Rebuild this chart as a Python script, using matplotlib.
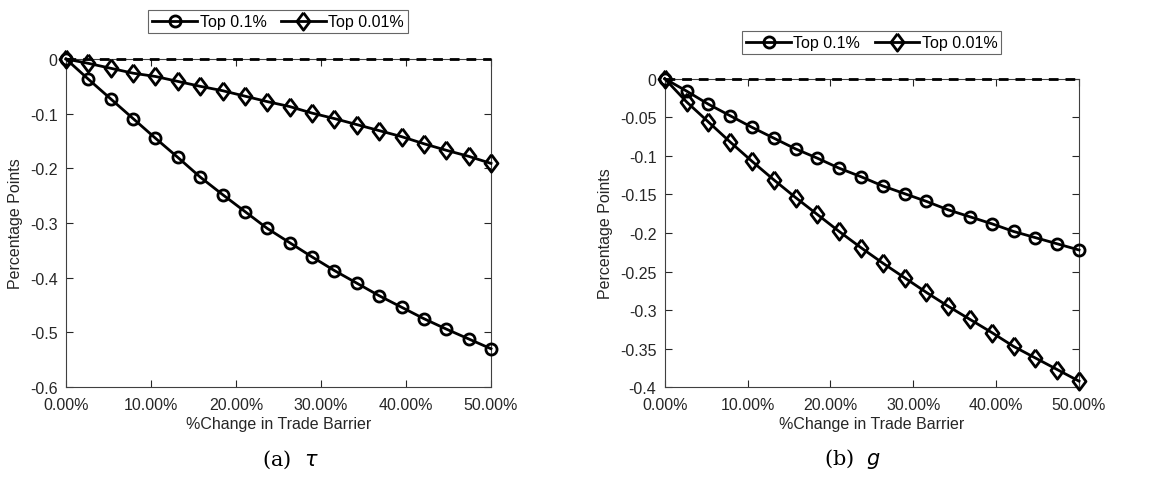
import matplotlib.pyplot as plt
import numpy as np

plt.rcParams['font.family'] = ['Liberation Sans', 'DejaVu Sans']

# trade barrier change, 20 steps from 0% to 50%
barrier = np.linspace(0.0, 0.5, 20)

# (a) response of tau, percentage points
tau_top01 = [0.000, -0.037, -0.073, -0.109, -0.145, -0.180, -0.216, -0.248,
             -0.279, -0.310, -0.336, -0.362, -0.387, -0.410, -0.433, -0.454,
             -0.475, -0.494, -0.512, -0.530]
tau_top001 = [0.000, -0.008, -0.017, -0.026, -0.032, -0.041, -0.050, -0.058,
              -0.068, -0.078, -0.087, -0.099, -0.109, -0.120, -0.131, -0.142,
              -0.155, -0.167, -0.178, -0.191]

# (b) response of g, percentage points
g_top01 = [0.000, -0.016, -0.033, -0.048, -0.063, -0.077, -0.091, -0.103,
           -0.116, -0.127, -0.139, -0.149, -0.159, -0.170, -0.179, -0.188,
           -0.198, -0.206, -0.214, -0.222]
g_top001 = [0.000, -0.030, -0.056, -0.082, -0.107, -0.131, -0.154, -0.176,
            -0.198, -0.219, -0.239, -0.258, -0.277, -0.295, -0.312, -0.329,
            -0.347, -0.362, -0.377, -0.392]

xticks = [0.0, 0.1, 0.2, 0.3, 0.4, 0.5]
xticklabels = ['0.00%', '10.00%', '20.00%', '30.00%', '40.00%', '50.00%']

# wide diamond, like MATLAB's 'd'
diamond = [(0, 1), (0.75, 0), (0, -1), (-0.75, 0), (0, 1)]

panels = [
    dict(rect=[0.0566, 0.1933, 0.3645, 0.6820], y1=tau_top01, y2=tau_top001,
         ylim=(-0.6, 0.0), yticks=[0, -0.1, -0.2, -0.3, -0.4, -0.5, -0.6],
         legend=(0.2385, 0.9525), caption='(a)  $\\tau$', cap_x=0.249),
    dict(rect=[0.5701, 0.1927, 0.3553, 0.6416], y1=g_top01, y2=g_top001,
         ylim=(-0.4, 0.0), yticks=[0, -0.05, -0.1, -0.15, -0.2, -0.25, -0.3, -0.35, -0.4],
         legend=(0.7477, 0.9090), caption='(b)  $g$', cap_x=0.7315),
]

fig = plt.figure(figsize=(11.66, 4.81), dpi=100)
text_col = '#262626'

for p in panels:
    ax = fig.add_axes(p['rect'])
    ax.plot(barrier, p['y1'], color='black', lw=2, marker='o', ms=8,
            mfc='none', mew=2, label='Top 0.1%', clip_on=False, zorder=5)
    ax.plot(barrier, p['y2'], color='black', lw=2, marker=diamond, ms=12.5,
            mfc='none', mew=2, label='Top 0.01%', clip_on=False, zorder=5)
    ax.axhline(0, color='black', lw=2, ls=(0, (3.5, 2.5)), zorder=4, clip_on=False)

    ax.set_xlim(0, 0.5)
    ax.set_ylim(*p['ylim'])
    ax.set_xticks(xticks)
    ax.set_xticklabels(xticklabels)
    ax.set_yticks(p['yticks'])
    ax.set_yticklabels(['%g' % v for v in p['yticks']])
    ax.tick_params(direction='in', top=True, right=True, length=5, width=0.8,
                   labelsize=11.5, colors=text_col)
    ax.tick_params(axis='x', pad=7)
    ax.tick_params(axis='y', pad=6)
    for s in ax.spines.values():
        s.set_color('#404040')
        s.set_linewidth(0.8)
    ax.set_xlabel('%Change in Trade Barrier', fontsize=11.5, color=text_col, labelpad=3)
    ax.set_ylabel('Percentage Points', fontsize=11.5, color=text_col, labelpad=5)

    leg = fig.legend(*ax.get_legend_handles_labels(), loc='center',
                     bbox_to_anchor=p['legend'], ncol=2, fontsize=11.5,
                     frameon=True, fancybox=False, handlelength=2.8,
                     handletextpad=0.15, columnspacing=0.9, borderpad=0.25,
                     borderaxespad=0)
    leg.get_frame().set_edgecolor('#404040')
    leg.get_frame().set_linewidth(0.8)

    fig.text(p['cap_x'], 0.045, p['caption'], ha='center', va='center',
             fontsize=15, family='DejaVu Serif', color='black')

fig.savefig('out.png', dpi=100)
